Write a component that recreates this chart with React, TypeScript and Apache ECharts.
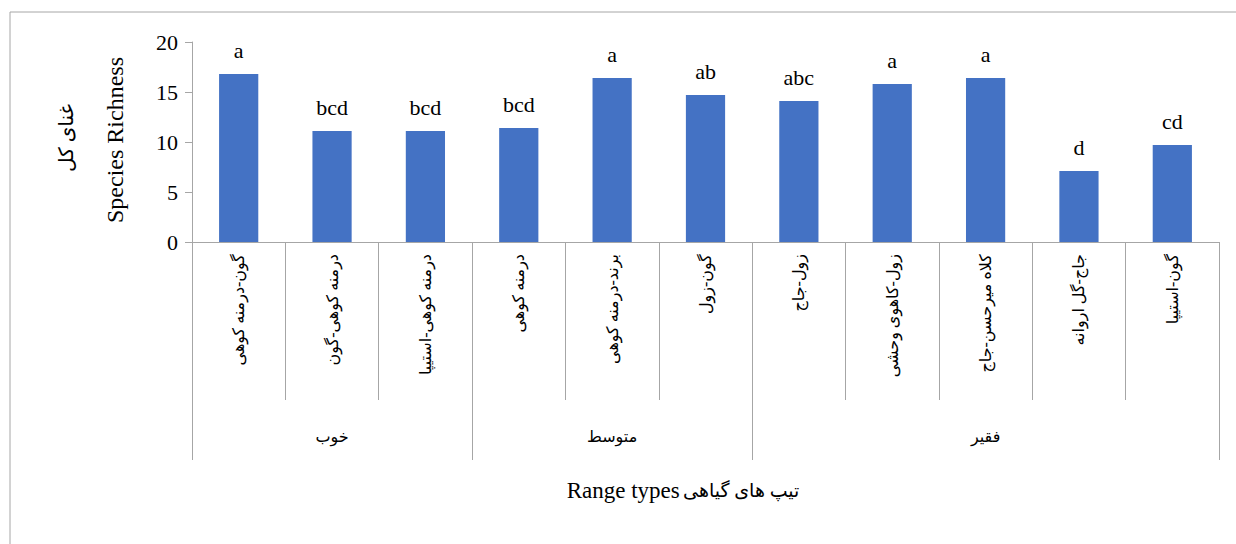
import React, { useEffect, useRef } from "react";
import * as echarts from "echarts";

// Plant community types (range types), grouped by range condition
const rangeTypes = [
  "گون-درمنه کوهی",
  "درمنه کوهی-گون",
  "درمنه کوهی-استیپا",
  "درمنه کوهی",
  "برند-درمنه کوهی",
  "گون-زول",
  "زول-جاج",
  "زول-کاهوی وحشی",
  "کلاه میرحسن-جاج",
  "جاج-گل اروانه",
  "گون-استیپا",
];

// Mean species richness per range type
const richness = [16.8, 11.1, 11.1, 11.4, 16.4, 14.7, 14.1, 15.8, 16.4, 7.1, 9.7];

// Mean-comparison letters shown above the bars
const letters = ["a", "bcd", "bcd", "bcd", "a", "ab", "abc", "a", "a", "d", "cd"];

// Range condition groups: label and the index of the first range type in each
const conditionNames = ["خوب", "متوسط", "فقیر"];
const conditionStarts = [0, 3, 6];

const yTicks = { min: 0, max: 20, interval: 5 };

const SERIF = "'Liberation Serif', 'Times New Roman', 'DejaVu Sans', serif";
const AXIS_GRAY = "#A6A6A6";

export default function App() {
  const ref = useRef<HTMLDivElement>(null);

  useEffect(() => {
    if (!ref.current) return;
    const chart = echarts.init(ref.current, null, { renderer: "svg" });

    // Group labels sit under the middle range type of each group
    const groupAxisData = rangeTypes.map(() => "");
    conditionStarts.forEach((start, g) => {
      const end = g + 1 < conditionStarts.length ? conditionStarts[g + 1] : rangeTypes.length;
      groupAxisData[Math.floor((start + end - 1) / 2)] = conditionNames[g];
    });

    chart.setOption({
      animation: false,
      backgroundColor: "#ffffff",
      textStyle: { fontFamily: SERIF },
      grid: { left: 192, top: 42, right: 17, bottom: 302, containLabel: false },
      xAxis: [
        {
          type: "category",
          data: rangeTypes,
          position: "bottom",
          axisLine: { show: true, lineStyle: { color: AXIS_GRAY, width: 1 } },
          axisTick: { show: true, interval: 0, length: 158, lineStyle: { color: AXIS_GRAY } },
          axisLabel: {
            interval: 0,
            rotate: 90,
            margin: 12,
            color: "#000",
            fontSize: 16,
            fontFamily: SERIF,
          },
        },
        {
          type: "category",
          data: groupAxisData,
          position: "bottom",
          axisLine: { show: false },
          axisTick: {
            show: true,
            interval: (i: number) => conditionStarts.indexOf(i) >= 0,
            length: 218,
            lineStyle: { color: AXIS_GRAY },
          },
          axisLabel: {
            interval: 0,
            margin: 186,
            color: "#000",
            fontSize: 16,
            fontFamily: SERIF,
          },
        },
      ],
      yAxis: {
        type: "value",
        min: yTicks.min,
        max: yTicks.max,
        interval: yTicks.interval,
        axisLine: { show: true, lineStyle: { color: AXIS_GRAY } },
        axisTick: { show: true, length: 7, lineStyle: { color: AXIS_GRAY } },
        splitLine: { show: false },
        axisLabel: { color: "#000", fontSize: 22, margin: 14, fontFamily: SERIF },
      },
      series: [
        {
          type: "bar",
          xAxisIndex: 0,
          data: richness,
          barWidth: "42%",
          itemStyle: { color: "#4472C4" },
          label: {
            show: true,
            position: "top",
            distance: 13,
            color: "#000",
            fontSize: 22,
            fontFamily: SERIF,
            formatter: (p: any) => letters[p.dataIndex],
          },
        },
      ],
      graphic: [
        {
          type: "rect",
          shape: { x: 10, y: 12, width: 1240, height: 560 },
          style: { fill: "none", stroke: "#A6A6A6", lineWidth: 1 },
          silent: true,
        },
        {
          type: "text",
          x: 66,
          y: 138,
          rotation: Math.PI / 2,
          style: {
            text: "غنای کل",
            fontSize: 20,
            fontFamily: SERIF,
            fill: "#000",
            align: "center",
            verticalAlign: "middle",
          },
        },
        {
          type: "text",
          x: 115,
          y: 140,
          rotation: Math.PI / 2,
          style: {
            text: "Species Richness",
            fontSize: 24,
            fontFamily: SERIF,
            fill: "#000",
            align: "center",
            verticalAlign: "middle",
          },
        },
        {
          type: "text",
          x: 683,
          y: 490,
          style: {
            text: "{en|Range types} {fa|تیپ های گیاهی}",
            fill: "#000",
            align: "center",
            verticalAlign: "middle",
            rich: {
              en: { fontSize: 23, fontFamily: SERIF, fill: "#000" },
              fa: { fontSize: 19, fontFamily: SERIF, fill: "#000" },
            },
          },
        },
      ],
    });

    return () => chart.dispose();
  }, []);

  return (
    <div
      ref={ref}
      style={{ position: "fixed", left: 0, top: 0, width: 1236, height: 544, background: "#fff" }}
    />
  );
}
